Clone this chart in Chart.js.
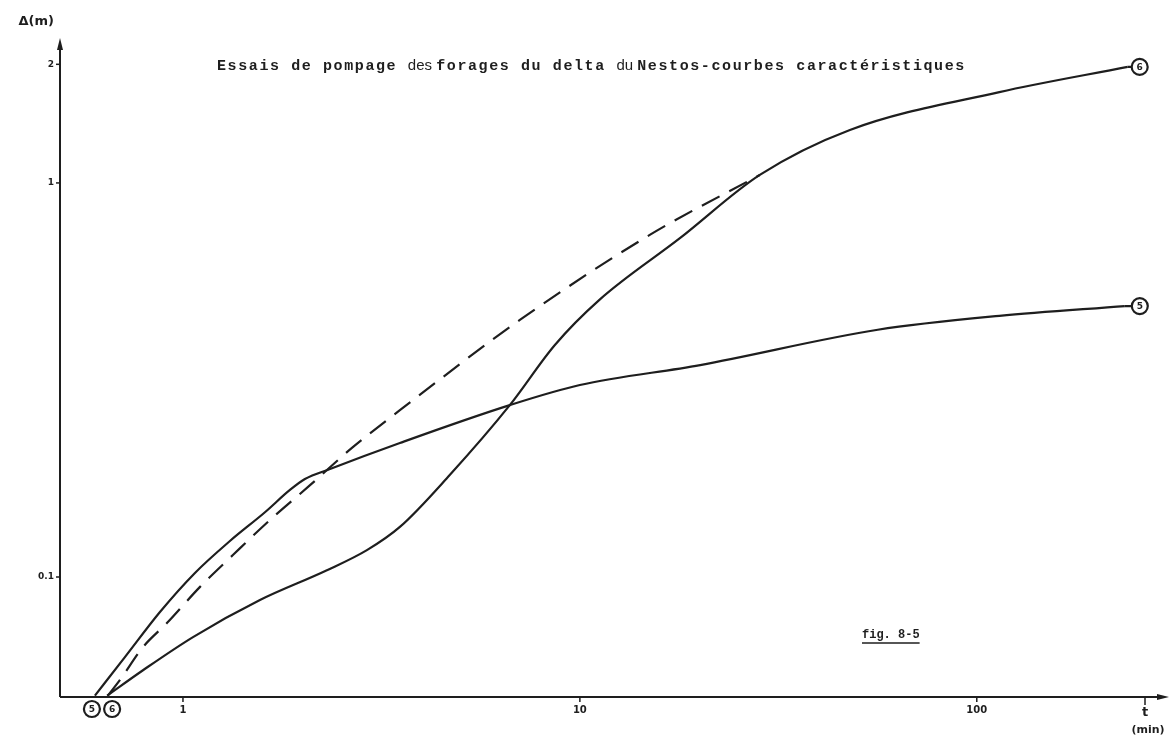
<!DOCTYPE html>
<html>
<head>
<meta charset="utf-8">
<title>Essais de pompage - delta du Nestos</title>
<script src="https://cdn.jsdelivr.net/npm/chart.js@4/dist/chart.umd.min.js"></script>
<style>
    html, body { margin: 0; padding: 0; background: #fff; }
    #wrap { width: 1173px; height: 742px; position: relative; }
</style>
</head>
<body>
<div id="wrap"><canvas id="pumpChart" width="1173" height="742"></canvas></div>
<script>
// Temps (min) et rabattement (m), forages 5 et 6
const forage5Temps = [0.60, 0.714, 0.875, 1.072, 1.313, 1.609, 1.86, 2.029, 2.347, 3.52, 6.66, 10, 20.1, 56.3, 114, 236];
const forage5Rabat = [0.050, 0.0626, 0.0815, 0.1024, 0.1234, 0.146, 0.1663, 0.1773, 0.188, 0.2188, 0.273, 0.307, 0.345, 0.424, 0.46, 0.487];

const forage6Temps = [0.644, 0.793, 1.06, 1.563, 2.305, 2.907, 3.52, 4.70, 6.66, 8.65, 11.2, 17.9, 28.4, 47.9, 114, 240];
const forage6Rabat = [0.050, 0.058, 0.0704, 0.0874, 0.104, 0.117, 0.134, 0.1815, 0.273, 0.388, 0.505, 0.725, 1.048, 1.363, 1.70, 1.97];

// droite tiretée du forage 6
const tiretTemps = [0.647, 0.694, 0.793, 0.911, 1.104, 1.336, 1.656, 2.09, 2.665, 3.52, 7.06, 15.0, 28.4];
const tiretRabat = [0.050, 0.0548, 0.0664, 0.0764, 0.0944, 0.1137, 0.1395, 0.171, 0.2126, 0.265, 0.449, 0.738, 1.048];

const ticksTemps = [1, 10, 100];
const ticksRabat = [0.1, 1, 2];
const labelsRabat = ['0.1', '1', '2'];

const titreMorceaux = [
    { text: 'Essais de pompage ', bold: true },
    { text: 'des ', bold: false },
    { text: 'forages du delta ', bold: true },
    { text: 'du ', bold: false },
    { text: 'Nestos-courbes caractéristiques', bold: true }
];

const INK = '#1e1e1e';

function toPoints(xs, ys) {
    return xs.map((t, i) => ({ x: t, y: ys[i] }));
}

function drawCircleLabel(ctx, cx, cy, label) {
    ctx.save();
    ctx.beginPath();
    ctx.arc(cx, cy, 8, 0, Math.PI * 2);
    ctx.fillStyle = '#fff';
    ctx.fill();
    ctx.lineWidth = 2.2;
    ctx.strokeStyle = INK;
    ctx.stroke();
    ctx.fillStyle = INK;
    ctx.font = 'bold 9px "DejaVu Sans"';
    ctx.textAlign = 'center';
    ctx.textBaseline = 'middle';
    ctx.fillText(label, cx, cy + 0.5);
    ctx.restore();
}

// Axes à flèches, graduations, titre et repères des forages
const dessinPlugin = {
    id: 'dessinPlugin',
    afterDatasetsDraw(chart) {
        const { ctx, chartArea: a, scales } = chart;
        const sx = scales.x, sy = scales.y;
        ctx.save();
        ctx.strokeStyle = INK;
        ctx.fillStyle = INK;
        ctx.lineWidth = 2;

        // axe vertical
        ctx.beginPath();
        ctx.moveTo(a.left, a.bottom);
        ctx.lineTo(a.left, a.top - 4);
        ctx.stroke();
        ctx.beginPath();
        ctx.moveTo(a.left, a.top - 10);
        ctx.lineTo(a.left - 3, a.top + 2);
        ctx.lineTo(a.left + 3, a.top + 2);
        ctx.closePath();
        ctx.fill();

        // axe horizontal
        ctx.beginPath();
        ctx.moveTo(a.left, a.bottom);
        ctx.lineTo(a.right - 2, a.bottom);
        ctx.stroke();
        ctx.beginPath();
        ctx.moveTo(a.right + 4, a.bottom);
        ctx.lineTo(a.right - 8, a.bottom - 3);
        ctx.lineTo(a.right - 8, a.bottom + 3);
        ctx.closePath();
        ctx.fill();

        // graduations
        ctx.lineWidth = 1.5;
        ctx.font = 'bold 9px "DejaVu Sans"';
        ctx.textBaseline = 'middle';
        ctx.textAlign = 'right';
        ticksRabat.forEach((v, i) => {
            const py = sy.getPixelForValue(v);
            ctx.beginPath();
            ctx.moveTo(a.left - 4, py);
            ctx.lineTo(a.left, py);
            ctx.stroke();
            ctx.fillText(labelsRabat[i], a.left - 6, py);
        });
        ctx.textAlign = 'center';
        ctx.textBaseline = 'top';
        ctx.font = 'bold 10px "DejaVu Sans"';
        ticksTemps.forEach(v => {
            const px = sx.getPixelForValue(v);
            ctx.beginPath();
            ctx.moveTo(px, a.bottom);
            ctx.lineTo(px, a.bottom + 5);
            ctx.stroke();
            ctx.fillText(String(v), px, a.bottom + 8);
        });

        // noms des axes
        ctx.font = 'bold 13px "DejaVu Sans"';
        ctx.textAlign = 'right';
        ctx.textBaseline = 'middle';
        ctx.fillText('\u0394(m)', a.left - 6, 22);
        ctx.beginPath();
        ctx.moveTo(a.right - 20, a.bottom);
        ctx.lineTo(a.right - 20, a.bottom + 8);
        ctx.stroke();
        ctx.textAlign = 'center';
        ctx.font = 'bold 13px "DejaVu Sans"';
        ctx.fillText('t', a.right - 20, a.bottom + 16);
        ctx.font = 'bold 11px "DejaVu Sans"';
        ctx.fillText('(min)', a.right - 17, a.bottom + 33);

        // titre, caractères de machine à écrire espacés
        let tx = 217;
        ctx.textAlign = 'left';
        ctx.textBaseline = 'alphabetic';
        titreMorceaux.forEach(m => {
            if (m.bold) {
                ctx.font = 'bold 15px "Liberation Mono"';
                ctx.letterSpacing = '1.6px';
            } else {
                ctx.font = '15px "Liberation Sans"';
                ctx.letterSpacing = '0px';
            }
            ctx.fillText(m.text, tx, 70);
            tx += ctx.measureText(m.text).width;
        });
        ctx.letterSpacing = '0px';

        // repère de figure
        ctx.font = 'bold 12px "Liberation Mono"';
        const fig = 'fig. 8-5';
        const fw = ctx.measureText(fig).width;
        ctx.fillText(fig, 862, 638);
        ctx.lineWidth = 1.5;
        ctx.beginPath();
        ctx.moveTo(862, 643);
        ctx.lineTo(862 + fw, 643);
        ctx.stroke();
        ctx.restore();

        // numéros des forages au début et à la fin des courbes
        const d5 = chart.getDatasetMeta(0).data;
        const d6 = chart.getDatasetMeta(1).data;
        drawCircleLabel(ctx, d5[0].x - 3, a.bottom + 12, '5');
        drawCircleLabel(ctx, d6[0].x + 5, a.bottom + 12, '6');
        const e5 = d5[d5.length - 1], e6 = d6[d6.length - 1];
        ctx.save();
        ctx.strokeStyle = INK;
        ctx.lineWidth = 2.2;
        ctx.beginPath();
        ctx.moveTo(e5.x, e5.y);
        ctx.lineTo(e5.x + 7, e5.y);
        ctx.moveTo(e6.x, e6.y);
        ctx.lineTo(e6.x + 4, e6.y);
        ctx.stroke();
        ctx.restore();
        drawCircleLabel(ctx, e5.x + 15, e5.y, '5');
        drawCircleLabel(ctx, e6.x + 12, e6.y, '6');
    }
};

document.addEventListener('DOMContentLoaded', function () {
    const ctx = document.getElementById('pumpChart').getContext('2d');
    new Chart(ctx, {
        type: 'line',
        data: {
            datasets: [
                {
                    label: 'Forage 5',
                    data: toPoints(forage5Temps, forage5Rabat),
                    borderColor: INK,
                    borderWidth: 2.2,
                    pointRadius: 0,
                    cubicInterpolationMode: 'monotone',
                    fill: false
                },
                {
                    label: 'Forage 6',
                    data: toPoints(forage6Temps, forage6Rabat),
                    borderColor: INK,
                    borderWidth: 2.2,
                    pointRadius: 0,
                    cubicInterpolationMode: 'monotone',
                    fill: false
                },
                {
                    label: 'Forage 6 (droite)',
                    data: toPoints(tiretTemps, tiretRabat),
                    borderColor: INK,
                    borderWidth: 2.2,
                    borderDash: [20, 11],
                    pointRadius: 0,
                    cubicInterpolationMode: 'monotone',
                    fill: false
                }
            ]
        },
        options: {
            responsive: false,
            animation: false,
            layout: { padding: { left: 60, right: 8, top: 48, bottom: 45 } },
            plugins: {
                legend: { display: false },
                tooltip: { enabled: false }
            },
            scales: {
                x: { type: 'logarithmic', min: 0.49, max: 298, display: false },
                y: { type: 'logarithmic', min: 0.0496, max: 2.2, display: false }
            }
        },
        plugins: [dessinPlugin]
    });
});
</script>
</body>
</html>
